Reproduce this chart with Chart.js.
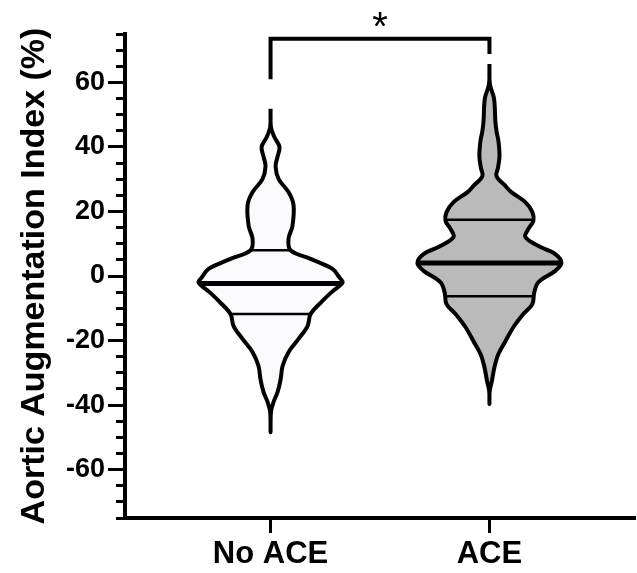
<!DOCTYPE html>
<html>
<head>
<meta charset="utf-8">
<script src="https://cdn.jsdelivr.net/npm/chart.js@4.4.1/dist/chart.umd.min.js"></script>
<style>
  html, body { margin: 0; padding: 0; background: #fff; }
  #violin-chart-content { position: relative; width: 637px; height: 573px; }
</style>
</head>
<body>
<div id="violin-chart-content"><canvas id="violin-chart"></canvas></div>
<script>
// groups and their x positions
const groups = ['No ACE', 'ACE'];
const groupPos = [1, 2];
const fillColors = ['#fafafd', '#bababa'];

// violin outlines: y level (%) and half width (x units)
const noAceY = [51.8, 46, 43, 40, 37, 34, 30, 26, 22, 15.5, 11.5, 8, 5.3, 2.2, -0.5, -2, -5, -8, -11.8, -15.5, -19.5, -23.6, -27.9, -32, -36, -39, -42, -48.4];
const noAceW = [0, 0.002, 0.018, 0.041, 0.032, 0.023, 0.037, 0.082, 0.105, 0.100, 0.082, 0.091, 0.183, 0.283, 0.315, 0.329, 0.279, 0.233, 0.183, 0.169, 0.128, 0.082, 0.055, 0.046, 0.032, 0.014, 0.002, 0];
const aceY = [65.7, 59.5, 55, 48, 44.6, 41.9, 37.2, 33.5, 31, 27.9, 26, 22.9, 19.8, 17.1, 14.6, 12.1, 9.3, 6.8, 4, 1.6, -1.9, -5, -8.7, -11.8, -15.8, -20.2, -24.2, -28.2, -32.6, -35.7, -39.7];
const aceW = [0, 0.002, 0.021, 0.027, 0.033, 0.041, 0.046, 0.039, 0.032, 0.073, 0.100, 0.164, 0.196, 0.201, 0.178, 0.164, 0.224, 0.301, 0.329, 0.301, 0.224, 0.205, 0.196, 0.155, 0.110, 0.073, 0.041, 0.023, 0.011, 0.001, 0];

// quartiles and the violin half width at each
const medians = [-2.3, 4];
const q1 = [-11.8, -6.3];
const q3 = [8, 17.4];
const medianW = [0.322, 0.325];
const q1W = [0.18, 0.2];
const q3W = [0.088, 0.197];

// y axis
const yMin = -75, yMax = 75;
const yMajorTicks = [-60, -40, -20, 0, 20, 40, 60];

// significance bracket
const bracketX = [1, 1, 2, 2];
const bracketY = [61, 73.5, 73.5, 68.8];
const sigText = '*';
const sigX = 1.5;
const sigY = 76.6;

const fontFamily = "'Liberation Sans', Arial, Helvetica, sans-serif";

function outline(center, ys, ws) {
    var right = ys.map((y, i) => ({x: center + ws[i], y: y}));
    var left = ys.map((y, i) => ({x: center - ws[i], y: y})).reverse();
    return right.concat(left.slice(1));
}

function hline(center, y, w, width) {
    return {
        data: [{x: center - w, y: y}, {x: center + w, y: y}],
        showLine: true,
        borderColor: '#000',
        borderWidth: width,
        borderCapStyle: 'butt',
        pointRadius: 0,
        fill: false,
        order: 1
    };
}

var datasets = [];
var shapes = [[noAceY, noAceW], [aceY, aceW]];
shapes.forEach((s, i) => {
    datasets.push({
        data: outline(groupPos[i], s[0], s[1]),
        showLine: true,
        fill: 'shape',
        backgroundColor: fillColors[i],
        borderColor: '#000',
        borderWidth: 4,
        borderJoinStyle: 'round',
        tension: 0.35,
        pointRadius: 0,
        order: 3
    });
    datasets.push(hline(groupPos[i], medians[i], medianW[i], 5));
    datasets.push(hline(groupPos[i], q1[i], q1W[i], 2.5));
    datasets.push(hline(groupPos[i], q3[i], q3W[i], 2.5));
});

datasets.push({
    data: bracketX.map((x, i) => ({x: x, y: bracketY[i]})),
    showLine: true,
    fill: false,
    borderColor: '#000',
    borderWidth: 4,
    borderCapStyle: 'butt',
    borderJoinStyle: 'miter',
    tension: 0,
    pointRadius: 0,
    order: 0
});

const sigPlugin = {
    id: 'sigMark',
    afterDatasetsDraw(chart) {
        var ctx = chart.ctx;
        var x = chart.scales.x, y = chart.scales.y;
        ctx.save();
        ctx.fillStyle = '#000';
        ctx.font = '40px ' + fontFamily;
        ctx.textAlign = 'center';
        ctx.textBaseline = 'middle';
        ctx.fillText(sigText, x.getPixelForValue(sigX), y.getPixelForValue(sigY));
        ctx.restore();
    }
};

var config = {
    type: 'scatter',
    data: {datasets: datasets},
    options: {
        responsive: true,
        maintainAspectRatio: false,
        animation: false,
        devicePixelRatio: 1,
        layout: {padding: {top: 34, right: 2, left: 0, bottom: 0}},
        plugins: {
            legend: {display: false},
            tooltip: {enabled: false}
        },
        scales: {
            x: {
                type: 'linear',
                min: 0.335,
                max: 2.665,
                afterFit: function (s) { s.height = 55; },
                afterBuildTicks: function (s) { s.ticks = groupPos.map(v => ({value: v})); },
                border: {color: '#000', width: 4},
                grid: {drawOnChartArea: false, tickLength: 15, tickWidth: 3, tickColor: '#000'},
                ticks: {
                    padding: 3,
                    color: '#000',
                    autoSkip: false,
                    maxRotation: 0,
                    font: {family: fontFamily, size: 31, weight: 'bold'},
                    callback: function (v) { return groups[groupPos.indexOf(v)]; }
                }
            },
            y: {
                min: yMin,
                max: yMax,
                afterFit: function (s) { s.width = 125; },
                border: {color: '#000', width: 4},
                grid: {
                    drawOnChartArea: false,
                    tickLength: 17,
                    tickWidth: 3,
                    tickColor: '#000',
                    // minor ticks: only the half next to the axis
                    tickBorderDash: function (c) {
                        return c.tick && yMajorTicks.includes(c.tick.value) ? [] : [0, 8, 12, 100];
                    }
                },
                ticks: {
                    stepSize: 5,
                    autoSkip: false,
                    padding: 3,
                    color: '#000',
                    font: {family: fontFamily, size: 27, weight: 'bold'},
                    callback: function (v) { return yMajorTicks.includes(v) ? String(v) : ''; }
                },
                title: {
                    display: true,
                    text: 'Aortic Augmentation Index (%)',
                    color: '#000',
                    padding: {top: 14, bottom: 0},
                    font: {family: fontFamily, size: 34, weight: 'bold'}
                }
            }
        }
    },
    plugins: [sigPlugin]
};

var ctx = document.getElementById('violin-chart').getContext('2d');
window.violinChart = new Chart(ctx, config);
</script>
</body>
</html>
